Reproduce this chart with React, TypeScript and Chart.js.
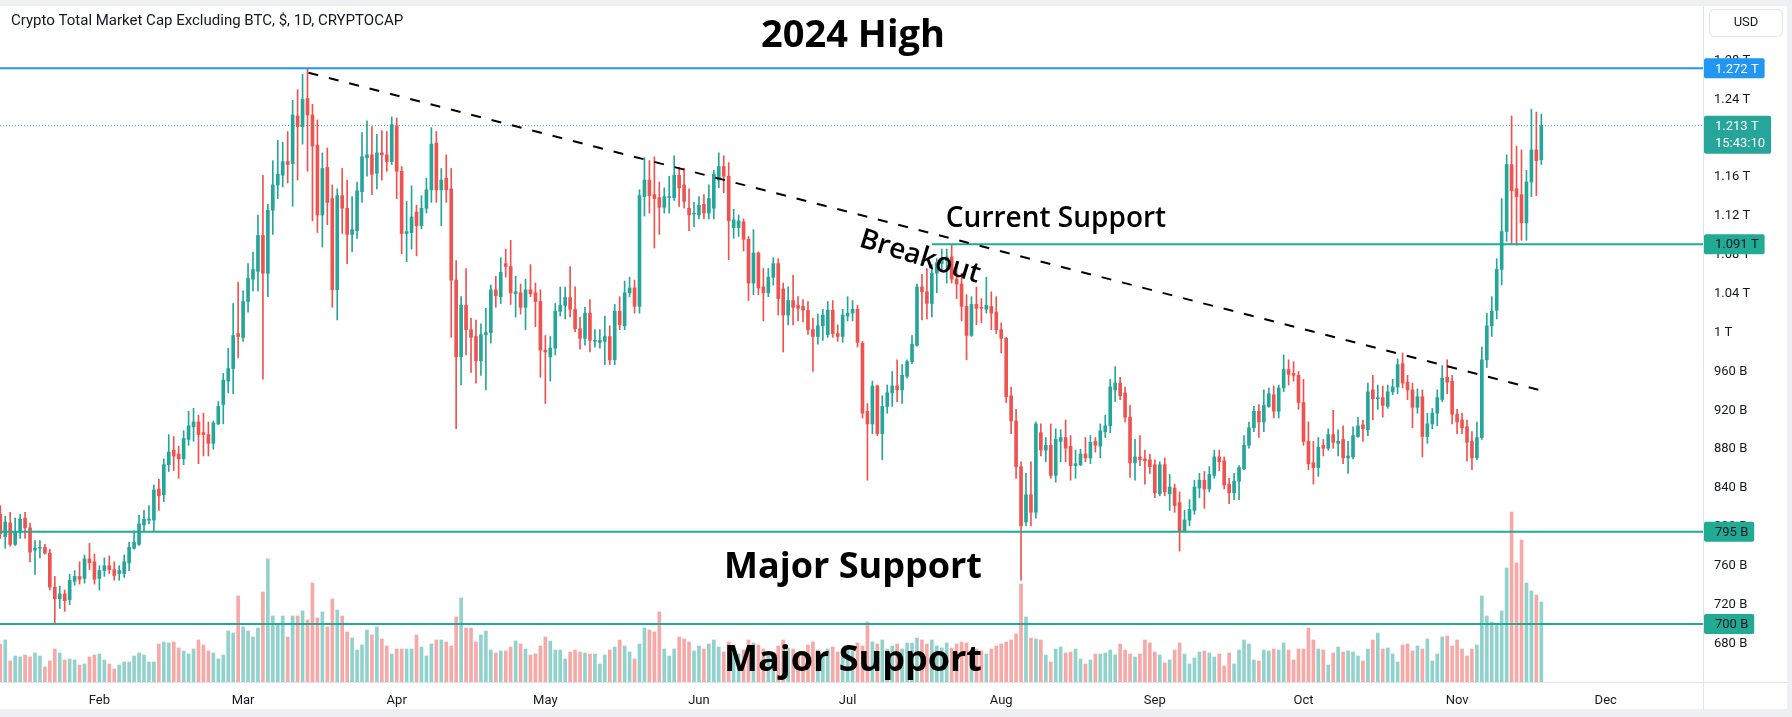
import React, { useEffect, useRef } from 'react';
import { Chart, registerables } from 'chart.js';

Chart.register(...registerables);

const TITLE = 'Crypto Total Market Cap Excluding BTC, $, 1D, CRYPTOCAP';
const CURRENCY = 'USD';
const COUNTDOWN = '15:43:10';

// Daily candles, first one on 2024-01-12. Day index counted from 2024-02-01 (= 0).
const FIRST_DAY = -20;

// Values in billions of USD
const opens = [
  813,790,804,782,795,809,799,776,778,779,
  773,738,726,731,725,744,749,747,767,764,
  747,755,760,756,752,752,763,778,782,802,
  807,807,839,833,864,879,875,870,890,903,
  908,897,895,886,906,926,950,963,999,995,
  1032,1055,1063,1100,1061,1126,1152,1162,1176,1174,
  1223,1212,1241,1224,1193,1121,1170,1138,1044,1141,
  1128,1101,1105,1145,1180,1183,1164,1185,1183,1176,
  1213,1166,1102,1103,1124,1110,1128,1147,1195,1147,
  1159,1148,1054,975,1028,1003,996,971,998,1000,
  1044,1037,1071,1068,1040,1041,1026,1044,1041,1032,
  982,975,984,1022,1028,1036,1024,1004,994,1020,
  991,990,991,996,972,1022,1007,1041,1046,1027,
  1140,1157,1142,1139,1129,1139,1139,1162,1152,1128,
  1122,1121,1132,1123,1128,1157,1171,1161,1108,1108,
  1114,1096,1051,1082,1047,1041,1057,1071,1045,1018,
  1033,1028,1027,1023,1003,996,1007,998,1023,999,
  996,1017,1020,1024,989,919,906,945,896,924,
  938,945,941,955,970,987,1047,1042,1030,1061,
  1071,1074,1078,1055,1050,1027,997,1029,1026,1024,
  1027,1021,1003,994,935,909,862,805,833,815,
  897,879,884,853,888,892,883,863,864,875,
  871,888,883,898,904,941,948,938,913,866,
  872,870,869,864,834,864,834,840,825,796,
  807,817,840,848,839,853,872,868,844,835,
  847,860,884,902,919,908,924,936,919,943,
  962,958,956,928,888,866,861,884,881,895,
  886,890,871,872,893,905,900,941,932,933,
  924,939,944,968,949,941,923,934,893,906,
  917,931,954,950,916,910,903,888,871,892,
  972,1007,1023,1065,1104,1173,1148,1142,1113,1155,
  1188,1178,
];
const highs = [
  822,811,815,809,813,815,804,786,786,782,
  777,749,739,735,751,755,764,771,783,772,
  760,768,770,764,760,771,784,796,812,817,
  822,843,849,870,895,893,883,899,919,922,
  915,917,908,909,929,958,984,1030,1052,1043,
  1071,1083,1121,1162,1132,1177,1198,1196,1207,1239,
  1250,1266,1272,1235,1219,1185,1190,1152,1148,1169,
  1157,1140,1155,1206,1218,1212,1204,1208,1207,1222,
  1221,1171,1135,1151,1131,1141,1159,1211,1207,1169,
  1183,1169,1074,1037,1066,1015,1013,1009,1025,1049,
  1058,1077,1086,1095,1058,1050,1055,1070,1051,1044,
  997,996,1030,1047,1047,1068,1047,1016,1026,1034,
  1003,1003,1017,1007,1029,1037,1053,1057,1054,1147,
  1180,1177,1181,1155,1149,1161,1182,1170,1169,1148,
  1134,1140,1142,1152,1167,1185,1182,1175,1127,1121,
  1117,1099,1106,1083,1066,1066,1077,1076,1051,1047,
  1059,1037,1034,1032,1015,1019,1024,1032,1033,1008,
  1024,1037,1033,1028,991,927,950,946,935,946,
  960,972,967,972,997,1050,1060,1066,1070,1076,
  1086,1086,1090,1068,1061,1039,1037,1047,1035,1057,
  1042,1037,1010,995,944,921,867,855,867,908,
  906,892,906,901,900,910,894,879,880,892,
  894,892,906,915,952,965,954,944,925,890,
  894,879,875,869,867,871,854,844,836,817,
  828,848,855,857,862,879,879,872,850,855,
  863,894,908,924,926,941,943,945,946,977,
  972,970,960,952,908,888,892,890,901,920,
  900,904,888,903,913,910,948,956,946,945,
  946,952,973,979,956,948,942,941,917,922,
  941,966,972,956,921,917,910,898,908,985,
  1020,1037,1076,1138,1183,1223,1192,1188,1167,1230,
  1227,1225,
];
const lows = [
  788,778,780,781,788,788,764,751,768,772,
  735,700,716,713,720,740,741,742,756,741,
  735,749,752,745,745,748,755,777,781,796,
  803,796,817,826,857,858,850,864,884,888,
  865,873,873,880,905,906,938,937,974,991,
  1021,1043,1043,952,1037,1101,1138,1150,1154,1130,
  1157,1194,1166,1115,1103,1088,1111,1026,1013,1102,
  1071,1083,1097,1134,1161,1142,1148,1157,1166,1173,
  1138,1081,1073,1086,1079,1107,1123,1134,1134,1110,
  1134,995,901,946,977,959,948,956,941,989,
  1026,1030,1057,1029,1016,1019,1003,1037,1006,954,
  927,950,977,1017,1014,1016,1001,983,987,980,
  985,984,967,967,967,1003,1003,1037,1020,1020,
  1120,1123,1087,1101,1123,1123,1136,1130,1128,1105,
  1109,1117,1117,1117,1117,1149,1144,1075,1097,1099,
  1084,1033,1039,1039,1012,1037,1049,1018,980,1008,
  1008,1012,1011,998,960,988,992,995,995,991,
  990,1012,1012,985,912,848,896,894,869,917,
  924,929,927,953,968,986,1013,1014,1016,1041,
  1063,1051,1051,1035,1012,972,996,1008,1010,1020,
  1003,999,979,928,896,850,745,801,801,809,
  873,867,850,846,867,867,848,850,863,867,
  865,877,871,892,897,929,931,908,851,848,
  863,844,855,830,832,832,817,815,775,795,
  801,813,830,819,836,850,858,839,824,828,
  828,859,881,898,892,898,923,912,912,939,
  946,950,921,884,859,844,852,873,879,881,
  873,865,855,870,892,888,894,910,921,913,
  922,936,937,943,931,902,917,872,886,901,
  904,929,937,906,896,896,868,859,869,890,
  964,996,1014,1049,1094,1092,1090,1095,1095,1140,
  1141,1173,
];
const closes = [
  793,805,782,795,808,799,774,778,779,773,
  738,726,731,724,745,749,746,767,763,746,
  755,760,756,750,755,764,779,784,803,808,
  808,838,832,864,877,873,870,891,904,908,
  895,895,886,907,924,951,963,997,996,1032,
  1056,1065,1100,1061,1126,1152,1163,1176,1173,1224,
  1212,1240,1224,1192,1121,1169,1134,1044,1141,1128,
  1101,1106,1146,1181,1183,1163,1185,1183,1176,1214,
  1166,1102,1104,1119,1110,1128,1147,1194,1147,1157,
  1147,1054,975,1028,1003,995,971,998,1000,1044,
  1038,1062,1068,1041,1042,1026,1044,1040,1032,982,
  980,984,1022,1028,1036,1024,1004,994,1020,992,
  992,992,996,972,1022,1008,1041,1046,1027,1141,
  1157,1141,1138,1129,1140,1140,1162,1149,1135,1121,
  1123,1131,1123,1138,1163,1171,1161,1115,1116,1115,
  1096,1051,1082,1046,1041,1057,1071,1035,1018,1033,
  1026,1025,1023,1003,996,1007,1018,1023,999,996,
  1018,1020,1024,990,917,906,945,896,924,938,
  945,941,956,970,988,1047,1042,1030,1061,1072,
  1075,1078,1055,1050,1027,997,1029,1025,1025,1028,
  1020,1003,994,934,909,862,801,833,815,906,
  879,884,853,890,892,881,863,865,875,871,
  887,884,899,904,944,948,935,913,866,872,
  869,868,862,835,864,836,841,822,796,807,
  818,841,848,839,854,872,867,843,835,847,
  861,884,902,919,908,925,937,919,943,962,
  957,956,928,888,865,861,882,881,895,887,
  888,871,873,894,904,901,939,932,933,925,
  939,944,967,948,941,923,934,893,906,917,
  933,953,949,916,908,902,887,871,892,972,
  1007,1022,1065,1104,1173,1146,1140,1113,1155,1188,
  1177,1213,
];
// Relative daily volume (arbitrary units)
const volumes = [
  38,42,21,26,25,27,25,29,26,15,
  21,33,29,22,23,22,17,18,25,27,
  28,22,18,13,17,20,20,26,29,27,
  20,20,38,40,39,40,34,31,28,33,
  42,37,31,29,23,27,51,49,86,55,
  51,45,54,90,123,66,57,66,45,66,
  66,71,62,99,64,70,55,83,72,66,
  50,44,32,37,52,47,55,43,36,28,
  33,33,33,33,47,35,26,38,42,42,
  40,36,65,84,54,54,40,47,51,32,
  29,31,31,35,41,38,33,27,28,36,
  45,41,32,32,23,30,32,30,29,28,
  28,18,27,32,35,42,36,30,23,38,
  54,52,50,70,33,26,33,45,43,40,
  31,36,33,38,42,35,30,40,33,28,
  32,42,39,37,33,30,28,36,42,34,
  33,27,30,37,40,32,28,33,35,30,
  32,36,31,39,36,60,40,38,42,33,
  36,38,33,39,39,44,42,38,42,36,
  34,39,34,38,40,39,32,33,31,28,
  33,36,38,40,42,48,98,65,44,43,
  42,27,20,33,35,29,30,33,23,18,
  22,28,28,29,32,27,38,32,28,25,
  28,42,39,30,27,19,22,32,39,28,
  18,24,30,31,29,25,28,16,29,18,
  32,42,38,22,21,32,31,33,32,39,
  32,22,33,33,54,42,33,32,17,29,
  35,30,31,30,26,21,33,42,49,33,
  34,28,20,37,38,31,36,33,43,21,
  28,45,46,36,42,33,26,33,37,86,
  66,60,57,71,114,170,119,142,99,91,
  87,80,
];

const monthLabels = ['Feb', 'Mar', 'Apr', 'May', 'Jun', 'Jul', 'Aug', 'Sep', 'Oct', 'Nov', 'Dec'];
const monthStartDays = [0, 29, 60, 90, 121, 151, 182, 213, 243, 274, 304];
const priceTicks = [680, 720, 760, 800, 840, 880, 920, 960, 1000, 1040, 1080, 1120, 1160, 1200, 1240, 1280];

// Drawn levels (billions)
const HIGH_2024 = 1272;
const LAST_PRICE = 1213;
const CURRENT_SUPPORT = 1091;
const MAJOR_SUPPORT_1 = 795;
const MAJOR_SUPPORT_2 = 700;
const CURRENT_SUPPORT_FROM_DAY = 168;
const trendDays = [42.2, 292.1];
const trendValues = [1267.4, 939];

// ---------- layout / style (not data) ----------
const W = 1792;
const H = 717;
const X_MIN = -20.06;
const X_MAX = 323.63;
const Y_MIN = 640.3;
const Y_MAX = 1336.2;
const VOL_MAX = 676;
const UP = '#26a69a';
const DOWN = '#ef5350';
const GREEN_LINE = '#22ab94';
const BLUE_LINE = '#2196f3';
const TEXT = '#131722';
const SEP = '#e0e3eb';
const FRAME = '#eef0f3';
const AXIS_FONT = '13px Roboto, "Noto Sans", sans-serif';
const ANNO_FONT = '"Open Sans", "Noto Sans", sans-serif';

const annotationLayout = [
  { text: '2024 High', x: 853, y: 36, size: 38, weight: 700, angle: 0 },
  { text: 'Current Support', x: 1056, y: 219, size: 28, weight: 600, angle: 0 },
  { text: 'Breakout', x: 920, y: 257, size: 28, weight: 600, angle: 17 },
  { text: 'Major Support', x: 853, y: 568, size: 36, weight: 700, angle: 0 },
  { text: 'Major Support', x: 853, y: 661, size: 36, weight: 700, angle: 0 },
];

function fmtPrice(v: number): string {
  if (v >= 1000) return `${+(v / 1000).toFixed(3)} T`;
  return `${v} B`;
}

function hline(v: number, from: number, to: number, color: string, width: number, dash: number[] = []) {
  return {
    type: 'line' as const,
    data: [{ x: from, y: v }, { x: to, y: v }],
    borderColor: color,
    borderWidth: width,
    borderDash: dash,
    pointRadius: 0,
    yAxisID: 'y',
    order: 1,
  };
}

const framePlugin = {
  id: 'frame',
  beforeDraw(chart: any) {
    const { ctx, chartArea } = chart;
    ctx.save();
    ctx.fillStyle = FRAME;
    ctx.fillRect(0, 0, W, H);
    ctx.fillStyle = '#ffffff';
    ctx.fillRect(0, chartArea.top, 1787, 709 - chartArea.top);
    ctx.strokeStyle = SEP;
    ctx.lineWidth = 1;
    ctx.beginPath();
    ctx.moveTo(chartArea.right + 0.5, chartArea.top);
    ctx.lineTo(chartArea.right + 0.5, 709);
    ctx.moveTo(0, chartArea.bottom + 0.5);
    ctx.lineTo(1787, chartArea.bottom + 0.5);
    ctx.stroke();
    ctx.restore();
  },
};

const overlayPlugin = {
  id: 'overlay',
  afterDraw(chart: any) {
    const { ctx, chartArea } = chart;
    const ys = chart.scales.y;
    ctx.save();
    // title
    ctx.font = '15px Roboto, "Noto Sans", sans-serif';
    ctx.fillStyle = TEXT;
    ctx.textAlign = 'left';
    ctx.textBaseline = 'middle';
    ctx.fillText(TITLE, 11, 21);

    // annotations
    ctx.fillStyle = '#000000';
    for (const a of annotationLayout) {
      ctx.save();
      ctx.font = `${a.weight} ${a.size}px ${ANNO_FONT}`;
      ctx.textAlign = 'center';
      ctx.textBaseline = 'middle';
      ctx.translate(a.x, a.y);
      if (a.angle) ctx.rotate((a.angle * Math.PI) / 180);
      ctx.fillText(a.text, 0, 0);
      ctx.restore();
    }

    // USD box
    const bx = chartArea.right + 6;
    ctx.strokeStyle = SEP;
    ctx.lineWidth = 1;
    ctx.beginPath();
    (ctx as any).roundRect(bx + 0.5, 9.5, 73, 27, 5);
    ctx.stroke();
    ctx.font = AXIS_FONT;
    ctx.fillStyle = TEXT;
    ctx.textAlign = 'center';
    ctx.fillText(CURRENCY, bx + 37, 23);

    // price tags
    const tags = [
      { v: HIGH_2024, bg: BLUE_LINE, fg: '#ffffff', sub: '' },
      { v: LAST_PRICE, bg: UP, fg: '#ffffff', sub: COUNTDOWN },
      { v: CURRENT_SUPPORT, bg: GREEN_LINE, fg: TEXT, sub: '' },
      { v: MAJOR_SUPPORT_1, bg: GREEN_LINE, fg: TEXT, sub: '' },
      { v: MAJOR_SUPPORT_2, bg: GREEN_LINE, fg: TEXT, sub: '' },
    ];
    ctx.font = AXIS_FONT;
    ctx.textAlign = 'left';
    ctx.textBaseline = 'middle';
    for (const t of tags) {
      const y = ys.getPixelForValue(t.v);
      const label = fmtPrice(t.v);
      const tw = Math.max(ctx.measureText(label).width, t.sub ? ctx.measureText(t.sub).width : 0);
      const x0 = chartArea.right + 1;
      const w = tw + 17;
      const top = y - 10;
      const h = t.sub ? 38 : 20;
      ctx.fillStyle = t.bg;
      ctx.beginPath();
      (ctx as any).roundRect(x0, top, w, h, 2);
      ctx.fill();
      ctx.fillStyle = t.fg;
      ctx.fillText(label, x0 + 11, y + 1);
      if (t.sub) ctx.fillText(t.sub, x0 + 11, y + 18);
    }
    ctx.restore();
  },
};

export default function App() {
  const ref = useRef<HTMLCanvasElement>(null);

  useEffect(() => {
    const canvas = ref.current;
    if (!canvas) return;
    const days = opens.map((_, i) => FIRST_DAY + i);
    const isUp = opens.map((o, i) => closes[i] >= o);
    const candleColors = isUp.map((u) => (u ? UP : DOWN));
    const volColors = isUp.map((u) => (u ? 'rgba(38,166,154,0.5)' : 'rgba(239,83,80,0.5)'));

    const chart = new Chart(canvas, {
      type: 'bar',
      data: {
        datasets: [
          {
            type: 'line',
            data: trendDays.map((d, i) => ({ x: d, y: trendValues[i] })),
            borderColor: '#000000',
            borderWidth: 2,
            borderDash: [10, 11],
            pointRadius: 0,
            yAxisID: 'y',
            order: 0,
          } as any,
          hline(HIGH_2024, X_MIN, X_MAX, BLUE_LINE, 2) as any,
          hline(LAST_PRICE, X_MIN, X_MAX, UP, 1, [1, 2]) as any,
          hline(CURRENT_SUPPORT, CURRENT_SUPPORT_FROM_DAY, X_MAX, GREEN_LINE, 2) as any,
          hline(MAJOR_SUPPORT_1, X_MIN, X_MAX, GREEN_LINE, 2) as any,
          hline(MAJOR_SUPPORT_2, X_MIN, X_MAX, GREEN_LINE, 2) as any,
          {
            data: days.map((d, i) => ({ x: d, y: [opens[i], closes[i]] })),
            backgroundColor: candleColors,
            barThickness: 3,
            minBarLength: 1,
            grouped: false,
            yAxisID: 'y',
            order: 2,
          } as any,
          {
            data: days.map((d, i) => ({
              x: d,
              y: [Math.min(lows[i], opens[i], closes[i]), Math.max(highs[i], opens[i], closes[i])],
            })),
            backgroundColor: candleColors,
            barThickness: 1,
            grouped: false,
            yAxisID: 'y',
            order: 3,
          } as any,
          {
            data: days.map((d, i) => ({ x: d, y: volumes[i] })),
            backgroundColor: volColors,
            barThickness: 3,
            grouped: false,
            yAxisID: 'vol',
            order: 4,
          } as any,
        ],
      },
      options: {
        responsive: false,
        animation: false,
        devicePixelRatio: 1,
        layout: { padding: { left: 0, top: 6, right: 5, bottom: 8 } },
        plugins: { legend: { display: false }, tooltip: { enabled: false } },
        scales: {
          x: {
            type: 'linear',
            min: X_MIN,
            max: X_MAX,
            offset: false,
            grid: { display: false, drawTicks: false },
            border: { display: false },
            afterBuildTicks: (scale: any) => {
              scale.ticks = monthStartDays.map((v) => ({ value: v }));
            },
            afterFit: (scale: any) => {
              scale.height = 27;
              scale.paddingLeft = 0;
              scale.paddingRight = 0;
            },
            ticks: {
              autoSkip: false,
              maxRotation: 0,
              padding: 11,
              color: TEXT,
              font: { family: 'Roboto, "Noto Sans", sans-serif', size: 13 },
              callback: (value: any) => {
                const idx = monthStartDays.indexOf(Number(value));
                return idx >= 0 ? monthLabels[idx] : '';
              },
            },
          },
          y: {
            type: 'linear',
            position: 'right',
            min: Y_MIN,
            max: Y_MAX,
            grid: { display: false, drawTicks: false },
            border: { display: false },
            afterBuildTicks: (scale: any) => {
              scale.ticks = priceTicks.map((v) => ({ value: v }));
            },
            afterFit: (scale: any) => {
              scale.width = 84;
              scale.paddingTop = 0;
              scale.paddingBottom = 0;
            },
            ticks: {
              padding: 11,
              color: TEXT,
              font: { family: 'Roboto, "Noto Sans", sans-serif', size: 13 },
              callback: (value: any) => fmtPrice(Number(value)),
            },
          },
          vol: {
            type: 'linear',
            display: false,
            min: 0,
            max: VOL_MAX,
          },
        },
      } as any,
      plugins: [framePlugin, overlayPlugin],
    });
    return () => chart.destroy();
  }, []);

  return (
    <div style={{ position: 'absolute', left: 0, top: 0, width: W, height: H, overflow: 'hidden' }}>
      <canvas ref={ref} width={W} height={H} style={{ display: 'block', width: W, height: H }} />
    </div>
  );
}
